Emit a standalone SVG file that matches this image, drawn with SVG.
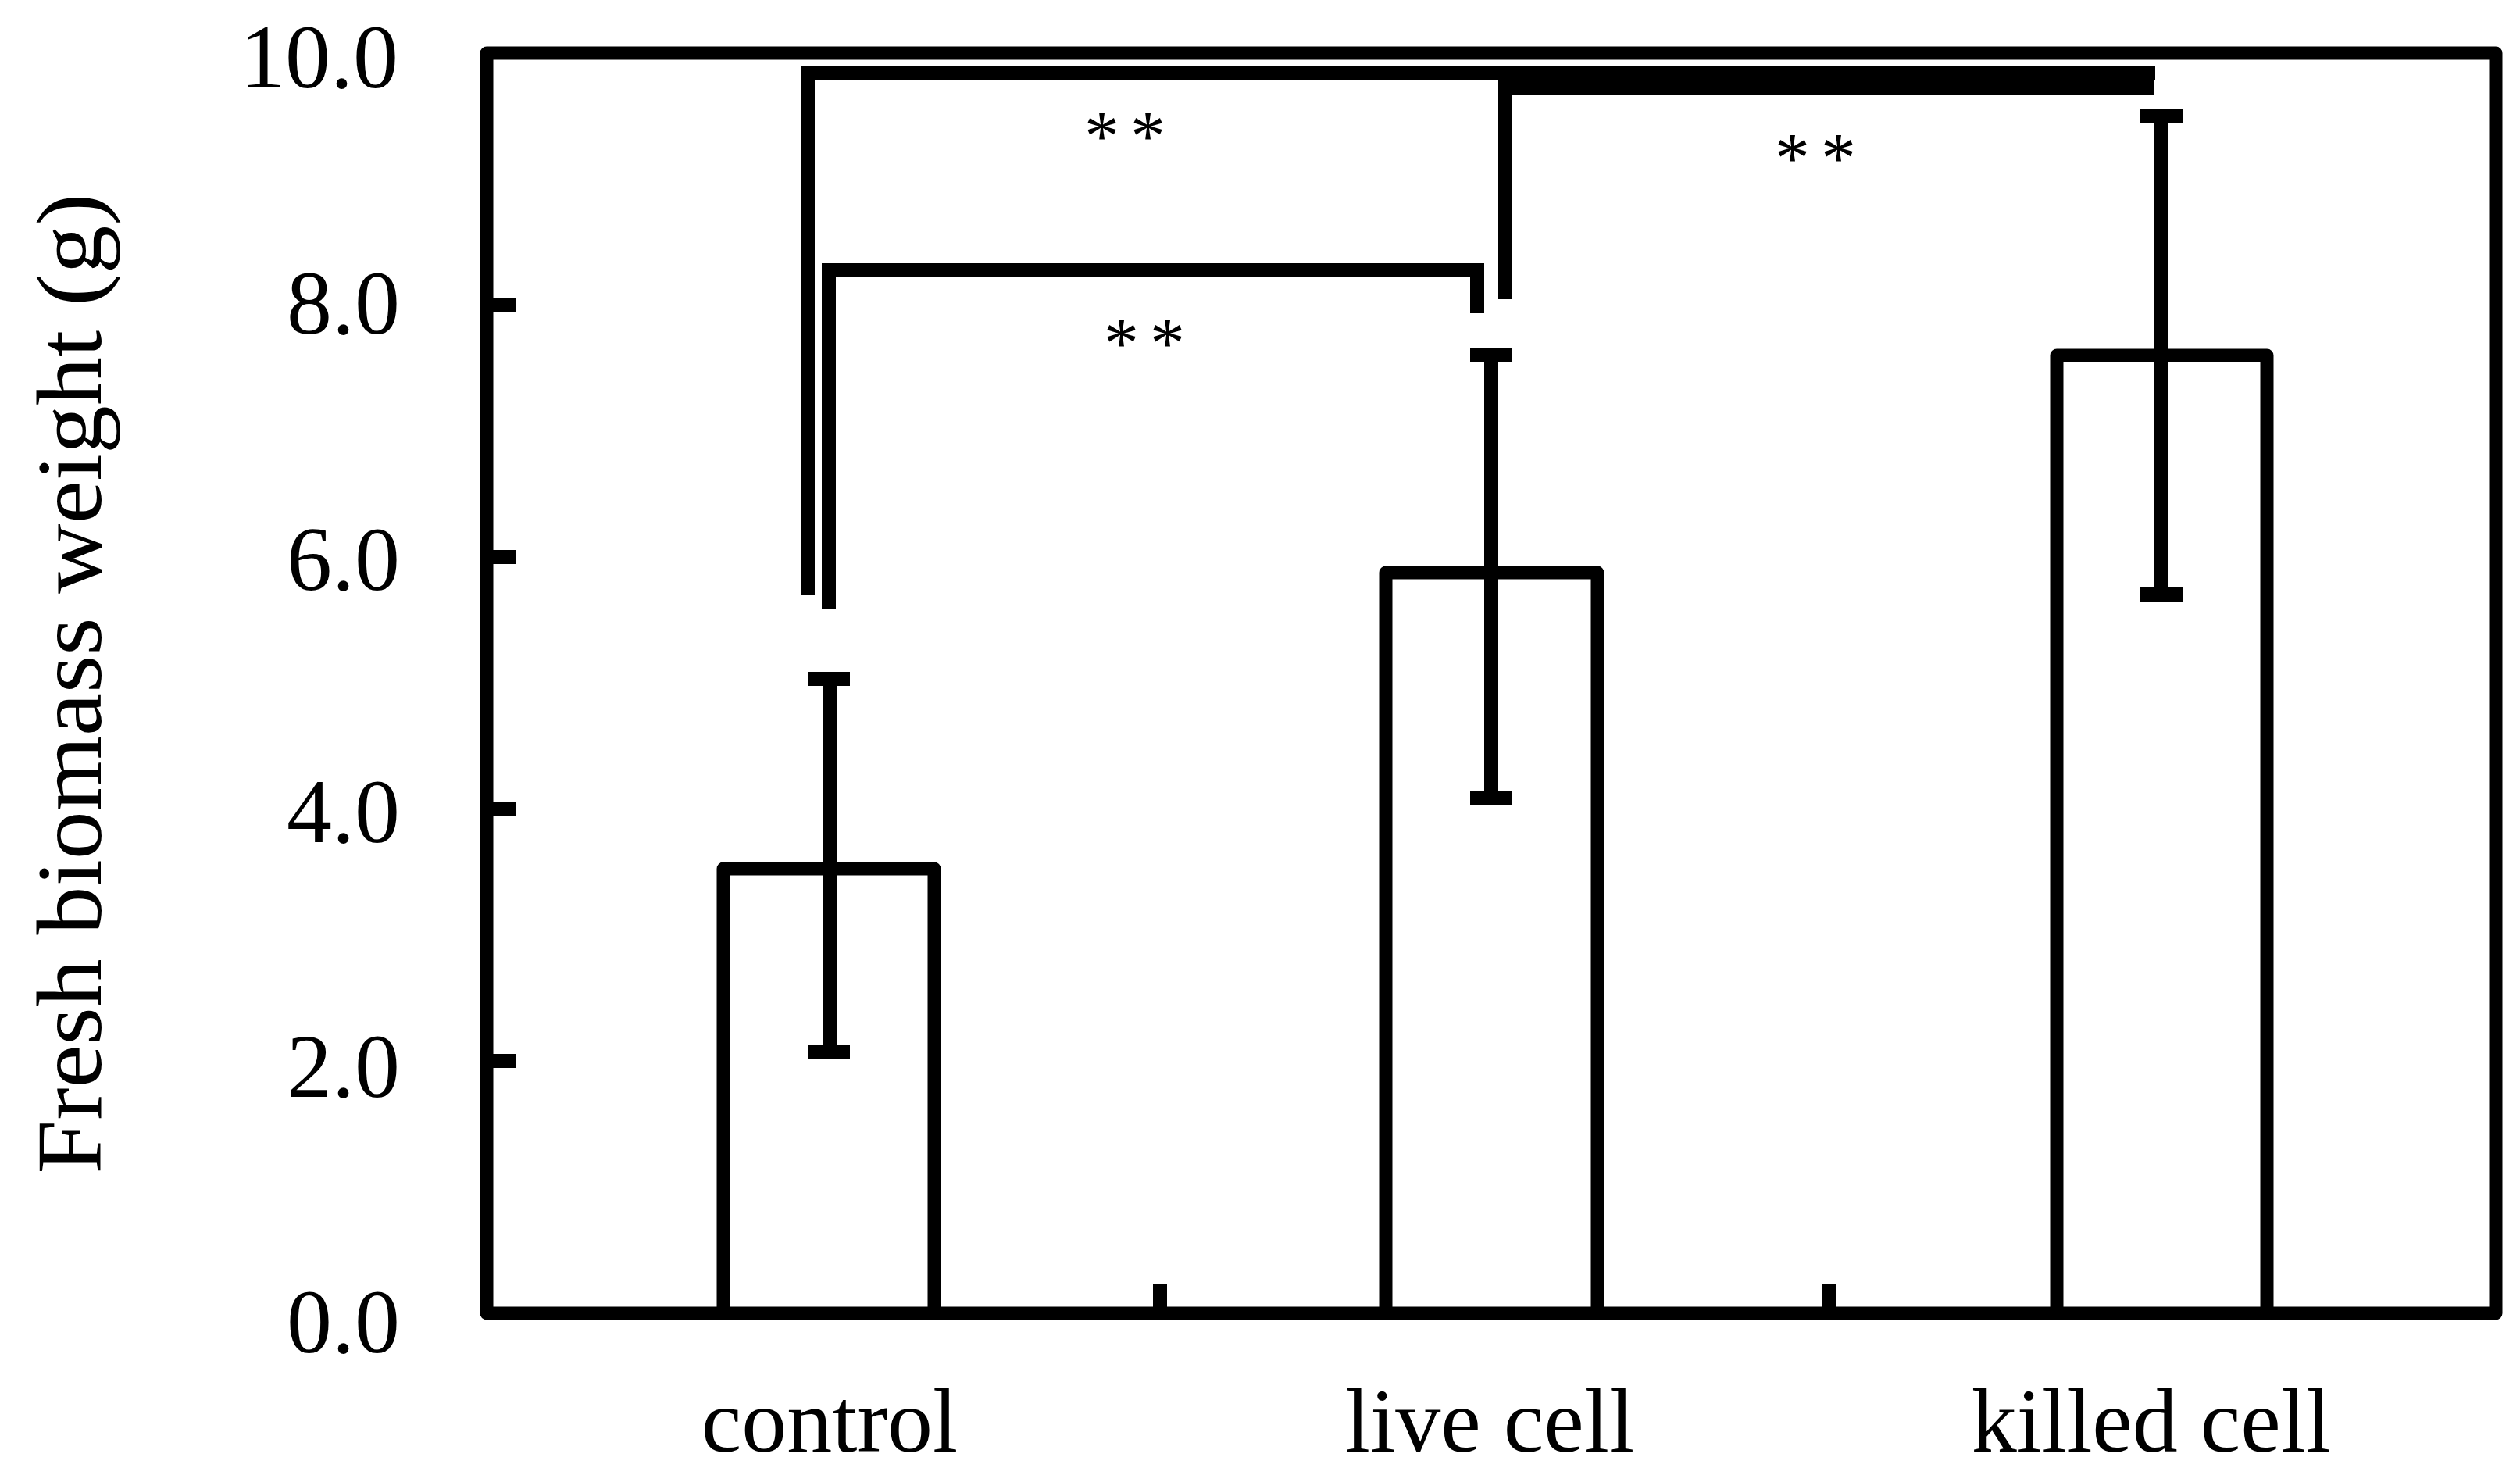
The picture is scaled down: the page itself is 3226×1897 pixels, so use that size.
<svg xmlns="http://www.w3.org/2000/svg" width="3226" height="1897" viewBox="0 0 3226 1897">
<style>
.ln{stroke:#000;stroke-width:17;fill:none;stroke-linejoin:round}
.br{stroke:#000;stroke-width:18;fill:none;stroke-linejoin:miter;stroke-linecap:butt}
.t{font-family:"Liberation Serif",serif;fill:#000}
.tk{font-size:116px;text-anchor:end}
.xl{font-size:116px;text-anchor:middle}
.st{font-size:90px;text-anchor:middle;letter-spacing:14px}
</style>
<rect width="3226" height="1897" fill="#fff"/>
<g id="frame">
<rect class="ln" x="623" y="68" width="2572" height="1613"/>
<path class="br" d="M631 391H660M631 713H660M631 1036H660M631 1358H660M1485 1643V1681M2342 1643V1681"/>
</g>
<g id="ticks">
<text class="t tk" x="510" y="112">10.0</text>
<text class="t tk" x="512" y="427">8.0</text>
<text class="t tk" x="512" y="755">6.0</text>
<text class="t tk" x="512" y="1078">4.0</text>
<text class="t tk" x="512" y="1404">2.0</text>
<text class="t tk" x="512" y="1731">0.0</text>
</g>
<text id="ylabel" class="t" font-size="118" text-anchor="middle" transform="translate(129,875) rotate(-90)" textLength="1255" lengthAdjust="spacingAndGlyphs">Fresh biomass  weight (g)</text>
<g id="bar-control"><path class="ln" d="M926 1681V1112H1196V1681"/><path class="br" d="M1062 869V1346M1034 869H1088M1034 1346H1088"/></g>
<g id="bar-live"><path class="ln" d="M1774 1681V733H2045V1681"/><path class="br" d="M1909 454V1022M1882 454H1936M1882 1022H1936"/></g>
<g id="bar-killed"><path class="ln" d="M2633 1681V455H2902V1681"/><path class="br" d="M2767 148V761M2740 148H2794M2740 761H2794"/></g>
<g id="xlabels">
<text class="t xl" x="1062" y="1858">control</text>
<text class="t xl" x="1907" y="1858">live cell</text>
<text class="t xl" x="2754" y="1858">killed cell</text>
</g>
<g id="connectors">
<path class="br" d="M1034 761V94H2750V103"/>
<path class="br" d="M1927 383V112H2758"/>
<path class="br" d="M1061 779V346H1891V401"/>
</g>
<g id="stars">
<text class="t st" x="1447" y="205">**</text>
<text class="t st" x="1472" y="470">**</text>
<text class="t st" x="2331" y="233">**</text>
</g>
</svg>
